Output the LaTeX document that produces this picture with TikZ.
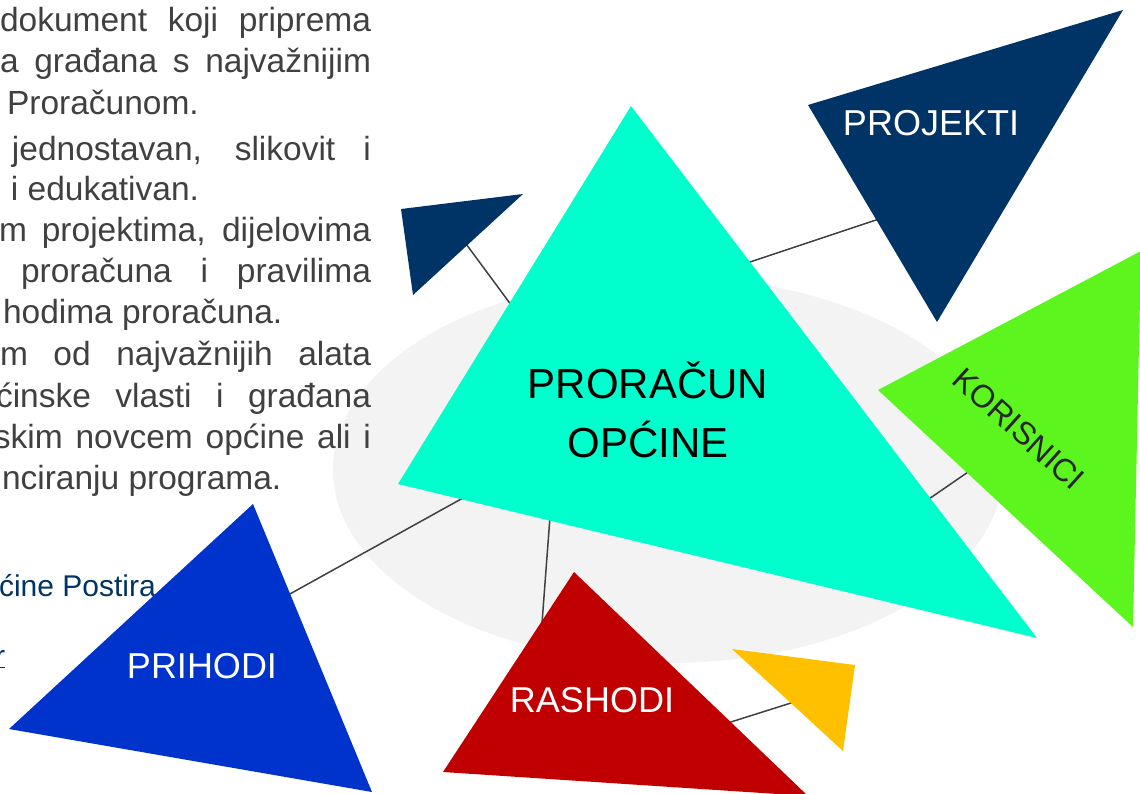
\documentclass[tikz,border=0pt]{standalone}
\usepackage{fontspec}
\setmainfont{Liberation Sans}
\definecolor{bodygray}{HTML}{404040}
\definecolor{navy}{HTML}{003366}
\definecolor{royal}{HTML}{0033CC}
\definecolor{aqua}{HTML}{00FFCC}
\definecolor{lime}{HTML}{5CF51E}
\definecolor{crimson}{HTML}{C00000}
\definecolor{amber}{HTML}{FFC000}
\definecolor{ellgray}{HTML}{F3F3F3}
\definecolor{linkgray}{HTML}{404040}
\definecolor{korigray}{HTML}{262626}
\begin{document}
\begin{tikzpicture}[x=1pt,y=-1pt,
  body/.style={inner sep=0pt, outer sep=0pt, text=bodygray, font=\fontsize{33.5}{40}\selectfont, anchor=base west},
  link/.style={draw=linkgray, line width=1.5pt},
  lbl/.style={inner sep=0pt, outer sep=0pt, anchor=base, font=\fontsize{36}{43}\selectfont, text=white},
  mainlbl/.style={inner sep=0pt, outer sep=0pt, anchor=base, font=\fontsize{42}{50}\selectfont, text=black}]
\useasboundingbox (0,0) rectangle (1140,793);
\clip (0,0) rectangle (1140,793);
% background ellipse
\fill[ellgray] (668,470) ellipse [x radius=335, y radius=193];
% triangle vertices
\coordinate (c1) at (631,106); \coordinate (c2) at (398,484); \coordinate (c3) at (1037,638);
\coordinate (s1) at (401,209); \coordinate (s2) at (523,194); \coordinate (s3) at (413,295);
\coordinate (p1) at (808,105); \coordinate (p2) at (1123,10); \coordinate (p3) at (937,322);
\coordinate (k1) at (878,390); \coordinate (k2) at (1141,251); \coordinate (k3) at (1133,627);
\coordinate (h1) at (253,504); \coordinate (h2) at (9,729); \coordinate (h3) at (372,792);
\coordinate (r1) at (574,572); \coordinate (r2) at (443,772); \coordinate (r3) at (808,796);
\coordinate (y1) at (732,649); \coordinate (y2) at (855,665); \coordinate (y3) at (843,751);
% connector end points (hidden under the triangles)
\coordinate (lsA) at (455,229); \coordinate (lsB) at (540,344);
\coordinate (lpA) at (720,272); \coordinate (lpB) at (900,212);
\coordinate (lkA) at (910,512); \coordinate (lkB) at (1000,450);
\coordinate (lhA) at (490,483); \coordinate (lhB) at (270,605);
\coordinate (lrA) at (552,490); \coordinate (lrB) at (540,650);
\coordinate (lyA) at (715,727); \coordinate (lyB) at (810,697);
% connectors
\draw[link] (lsA) -- (lsB);
\draw[link] (lpA) -- (lpB);
\draw[link] (lkA) -- (lkB);
\draw[link] (lhA) -- (lhB);
\draw[link] (lrA) -- (lrB);
\draw[link] (lyA) -- (lyB);
% left text
\node[body] (t1) at (0,31) {\makebox[371pt][s]{dokument koji priprema}};
\node[body] (t2) at (0,72) {\makebox[371pt][s]{a građana s najvažnijim}};
\node[body] (t3) at (7,114) {Proračunom.};
\node[body] (t4) at (12,160) {\makebox[359pt][s]{jednostavan, slikovit i}};
\node[body] (t5) at (-17,200) {e i edukativan.};
\node[body] (t6) at (-1,241) {\makebox[372pt][s]{m projektima, dijelovima}};
\node[body] (t7) at (21,282) {\makebox[350pt][s]{proračuna i pravilima}};
\node[body] (t8) at (3,323) {hodima proračuna.};
\node[body] (t9) at (0,365) {\makebox[371pt][s]{m od najvažnijih alata}};
\node[body] (t10) at (-4,407) {\makebox[375pt][s]{ćinske vlasti i građana}};
\node[body] (t11) at (-6,448) {\makebox[377pt][s]{skim novcem općine ali i}};
\node[body] (t12) at (2,489) {nciranju programa.};
\node[body, text=navy, font=\fontsize{30}{36}\selectfont] (t13) at (-1,596) {ćine Postira};
\node[body, text=navy, font=\fontsize{30}{36}\selectfont] (t14) at (-5,666) {\underline{r}};
% triangles
\fill[aqua] (c1) -- (c2) -- (c3) -- cycle;
\fill[navy] (s1) -- (s2) -- (s3) -- cycle;
\fill[navy] (p1) -- (p2) -- (p3) -- cycle;
\fill[lime] (k1) -- (k2) -- (k3) -- cycle;
\fill[royal] (h1) -- (h2) -- (h3) -- cycle;
\fill[crimson] (r1) -- (r2) -- (r3) -- cycle;
\fill[amber] (y1) -- (y2) -- (y3) -- cycle;
% labels
\node[mainlbl] (m1) at (648,398) {PRORAČUN};
\node[mainlbl] (m2) at (648,457) {OPĆINE};
\node[lbl] (proj) at (931,135) {PROJEKTI};
\node[lbl] (prih) at (202,678) {PRIHODI};
\node[lbl] (rash) at (592,712) {RASHODI};
\node[inner sep=0pt, outer sep=0pt, rotate=-42, font=\fontsize{32}{38}\selectfont, text=korigray] (kori) at (1019,429) {KORISNICI};
\end{tikzpicture}
\end{document}
